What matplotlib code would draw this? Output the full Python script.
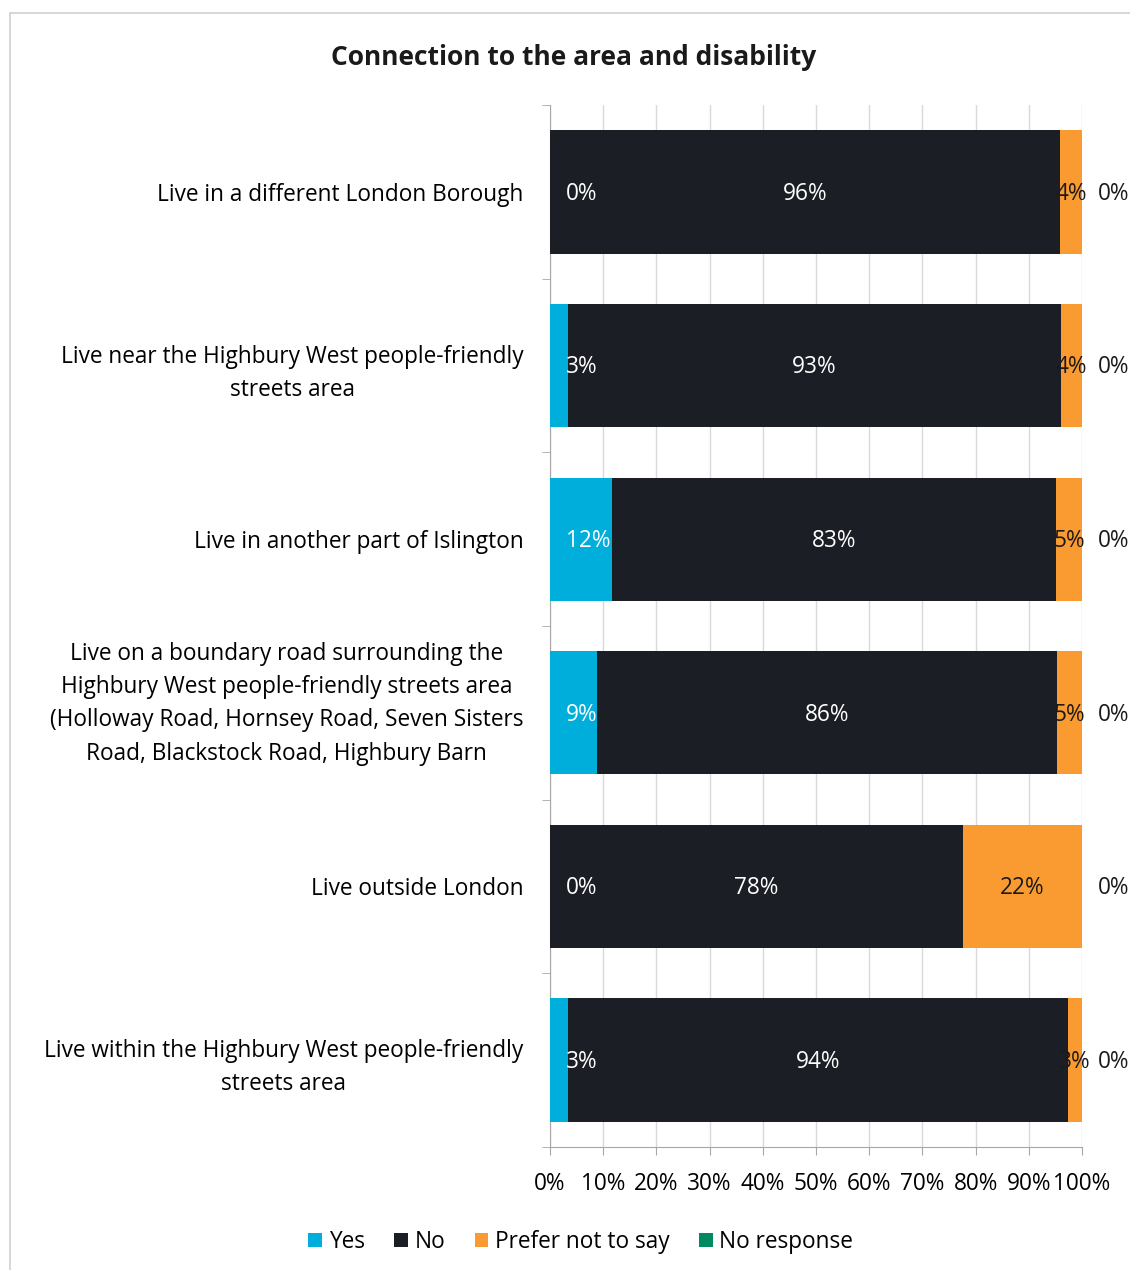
import numpy as np
import matplotlib
matplotlib.use("Agg")
import matplotlib.pyplot as plt
from matplotlib.patches import Rectangle

categories = [
    "Live in a different London Borough",
    "Live near the Highbury West people-friendly\nstreets area",
    "Live in another part of Islington",
    "Live on a boundary road surrounding the\nHighbury West people-friendly streets area\n(Holloway Road, Hornsey Road, Seven Sisters\nRoad, Blackstock Road, Highbury Barn\n ",
    "Live outside London",
    "Live within the Highbury West people-friendly\nstreets area",
]
yes = [0, 3.4, 11.7, 8.8, 0, 3.4]
no = [95.9, 92.7, 83.4, 86.5, 77.6, 94.0]
prefer = [4.1, 3.9, 4.9, 4.7, 22.4, 2.6]
no_response = [0, 0, 0, 0, 0, 0]

series_names = ["Yes", "No", "Prefer not to say", "No response"]
colours = ["#00AEDB", "#1B1E25", "#F99B30", "#008A62"]

plt.rcParams['font.family'] = ['Open Sans', 'DejaVu Sans']

fig = plt.figure(figsize=(11.3, 12.7), dpi=100)
ax = fig.add_axes([0.4867, 0.0969, 0.4708, 0.8204])

# light border round the chart
fig.patches.append(Rectangle((10 / 1130, -0.01), 1.1, 1 - 13 / 1270 + 0.01,
                             transform=fig.transFigure, fill=False,
                             edgecolor="#D0D0D0", lw=1.2))

fs = 16.3
y = np.arange(len(categories))
left = np.zeros(len(categories))
data = [yes, no, prefer, no_response]
for vals, name, col in zip(data, series_names, colours):
    vals = np.array(vals)
    ax.barh(y, vals, left=left, height=0.71, color=col, label=name, zorder=3)
    for i, v in enumerate(vals):
        txt = f"{round(v):.0f}%"
        yy = i + 0.01
        if name == "Yes":
            ax.text(3, yy, txt, ha="left", va="center", color="white", fontsize=fs, zorder=4)
        elif name == "No":
            ax.text(left[i] + v / 2, yy, txt, ha="center", va="center", color="white", fontsize=fs, zorder=4)
        elif name == "Prefer not to say":
            ax.text(left[i] + v / 2, yy, txt, ha="center", va="center", color="#1a1a1a", fontsize=fs, zorder=4)
        else:
            ax.text(left[i] + v + 3, yy, txt, ha="left", va="center", color="#1a1a1a", fontsize=fs, zorder=4)
    left += vals

ax.set_xlim(0, 100)
ax.set_ylim(len(categories) - 0.5, -0.5)
ax.set_xticks(np.arange(0, 101, 10))
ax.set_xticklabels([f"{t}%" for t in range(0, 101, 10)], fontsize=fs)
ax.set_yticks(y)
ax.set_yticklabels(categories, fontsize=fs, multialignment="center", linespacing=1.52)
ax.set_yticks(np.arange(-0.5, len(categories), 1), minor=True)
ax.tick_params(axis="y", which="major", length=0, pad=19)
ax.tick_params(axis="y", which="minor", length=6, color="#A6A6A6")
ax.tick_params(axis="x", length=6, color="#A6A6A6", pad=12)

ax.grid(axis="x", color="#D9D9D9", lw=1, zorder=0)
for s in ["top", "right"]:
    ax.spines[s].set_visible(False)
for s in ["left", "bottom"]:
    ax.spines[s].set_color("#A6A6A6")

fig.text(0.508, 0.955, "Connection to the area and disability", ha="center", va="center",
         fontsize=19, fontweight="bold", color="#1a1a1a")

ax.legend(loc="center", bbox_to_anchor=(0.514, 0.022), bbox_transform=fig.transFigure,
          ncol=4, frameon=False, fontsize=fs, handlelength=0.6, handleheight=0.6,
          handletextpad=0.3, columnspacing=1.3)

fig.savefig("out.png", dpi=100)
